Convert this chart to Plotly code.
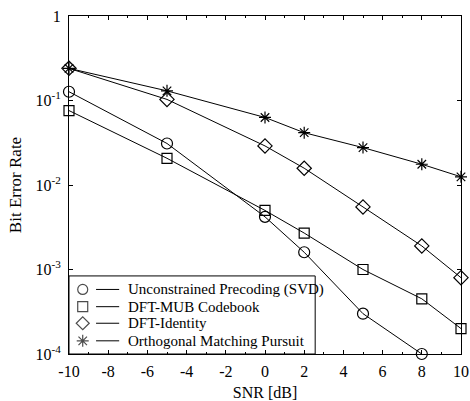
import math
import plotly.graph_objects as go

snr_svd = [-10, -5, 0, 2, 5, 8]
ber_svd = [0.127, 0.031, 0.0042, 0.0016, 0.0003, 0.0001]

snr_all = [-10, -5, 0, 2, 5, 8, 10]
ber_mub = [0.076, 0.0207, 0.005, 0.0027, 0.001, 0.00045, 0.0002]
ber_ident = [0.24, 0.103, 0.029, 0.0158, 0.0055, 0.0019, 0.0008]
ber_omp = [0.24, 0.13, 0.063, 0.0416, 0.0277, 0.0176, 0.0125]

names = ["Unconstrained Precoding (SVD)", "DFT-MUB Codebook", "DFT-Identity",
         "Orthogonal Matching Pursuit"]
symbols = ["circle-open", "square-open", "diamond-open", "asterisk-open"]
sizes = [11, 10, 11, 10]

xtick_vals = [-10, -8, -6, -4, -2, 0, 2, 4, 6, 8, 10]
xtick_text = ["-10", "-8", "-6", "-4", "-2", "0", "2", "4", "6", "8", "10"]
ytick_vals = [1e-4, 1e-3, 1e-2, 1e-1, 1]
ytick_text = ["10<sup>-4</sup>", "10<sup>-3</sup>", "10<sup>-2</sup>", "10<sup>-1</sup>", "1"]

# dash-dot zoom box (x range, top value)
box_x = [3.86, 6.77]
box_top = 6.1e-4

font = dict(family="Liberation Serif, Times New Roman, serif", color="black")

fig = go.Figure()
series = [(snr_svd, ber_svd), (snr_all, ber_mub), (snr_all, ber_ident), (snr_all, ber_omp)]
for (x, y), n, s, sz in zip(series, names, symbols, sizes):
    fig.add_trace(go.Scatter(
        x=x, y=y, name=n, mode="lines+markers", showlegend=False, cliponaxis=False,
        line=dict(color="black", width=1),
        marker=dict(symbol=s, size=sz, color="black", line=dict(width=1.2, color="black")),
    ))

ly = math.log10(box_top)
fig.add_shape(type="path",
              path=f"M {box_x[0]} -4 L {box_x[0]} {ly} L {box_x[1]} {ly} L {box_x[1]} -4",
              xref="x", yref="y", line=dict(color="black", width=1, dash="dashdot"))

# ---- hand-drawn legend (paper coordinates of the plot area) ----
leg_box = dict(x0=0, x1=0.628, y0=0, y1=0.231)
leg_rows = [0.191, 0.140, 0.091, 0.039]
leg_marker_x = 0.035
leg_line_x = (0.069, 0.128)
leg_text_x = 0.145

fig.add_shape(type="rect", xref="paper", yref="paper", layer="below",
              line=dict(color="black", width=1), fillcolor="white", **leg_box)
for yy, n in zip(leg_rows, names):
    fig.add_shape(type="line", xref="paper", yref="paper",
                  x0=leg_line_x[0], x1=leg_line_x[1], y0=yy, y1=yy,
                  line=dict(color="black", width=1))
    fig.add_annotation(x=leg_text_x, y=yy, xref="paper", yref="paper", text=n,
                       showarrow=False, xanchor="left", yanchor="middle",
                       font=dict(size=15, **font))
fig.add_trace(go.Scatter(
    x=[leg_marker_x] * 4, y=leg_rows, xaxis="x2", yaxis="y2", mode="markers",
    showlegend=False, hoverinfo="skip",
    marker=dict(symbol=symbols, size=[10, 10, 10, 10], color="black",
                line=dict(width=1.2, color="black")),
))

fig.update_layout(
    width=470, height=401,
    margin=dict(l=69, r=9, t=16, b=47),
    paper_bgcolor="white", plot_bgcolor="white",
    font=dict(size=16, **font),
    showlegend=False,
    xaxis=dict(range=[-10, 10], tickvals=xtick_vals, ticktext=xtick_text,
               ticks="inside", ticklen=4, automargin=False, ticklabeloverflow="allow",
               ticklabelstandoff=3,
               showgrid=False, zeroline=False, showline=True, linecolor="black",
               linewidth=1, mirror="ticks", tickcolor="black",
               minor=dict(dtick=1, ticks="inside", ticklen=2, tickcolor="black"),
               title=dict(text="SNR [dB]", font=dict(size=16, **font), standoff=13),
               tickfont=dict(size=16, **font)),
    yaxis=dict(type="log", range=[-4, 0], tickvals=ytick_vals, ticktext=ytick_text,
               ticks="inside", ticklen=4, automargin=False, ticklabeloverflow="allow",
               ticklabelstandoff=4,
               showgrid=False, zeroline=False,
               showline=True, linecolor="black", linewidth=1, mirror="ticks",
               tickcolor="black",
               title=dict(text="Bit Error Rate", font=dict(size=17, **font), standoff=9),
               tickfont=dict(size=16, **font)),
    xaxis2=dict(overlaying="x", range=[0, 1], visible=False, domain=[0, 1]),
    yaxis2=dict(overlaying="y", range=[0, 1], visible=False),
)

# remove the page's default body margin so the 470x401 figure fills the window
fig.write_html("out.html", config={"displayModeBar": False},
               post_script="document.body.style.margin='0px';document.body.style.overflow='hidden';")
